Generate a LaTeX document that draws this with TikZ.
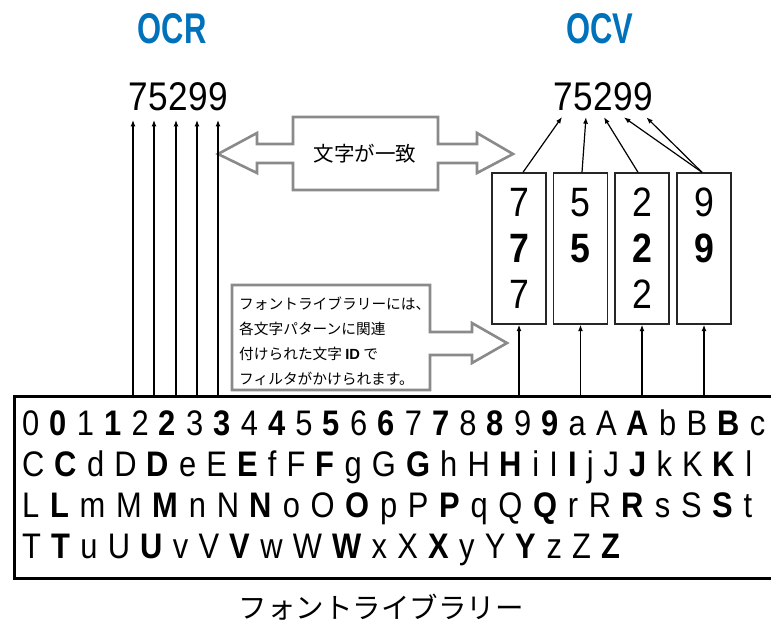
\documentclass[tikz,border=0pt]{standalone}
\usepackage{fontspec}
\setmainfont{Liberation Sans}
\newfontfamily\condfont[FakeStretch=0.87]{Liberation Sans}
\newfontfamily\numfont[FakeStretch=0.88]{Liberation Sans}
\newfontfamily\titlefont[FakeStretch=0.72]{Liberation Sans}
\newfontfamily\jpfont{Noto Sans CJK JP}
\usetikzlibrary{positioning,arrows.meta}
\definecolor{ocvblue}{RGB}{0,114,188}
\definecolor{outlinegray}{RGB}{138,138,138}
\newcommand\bd[1]{{\bfseries #1}}
\tikzset{
  title/.style={font=\titlefont\bfseries\fontsize{43}{43}\selectfont, text=ocvblue},
  digit/.style={font=\numfont\fontsize{40}{40}\selectfont, inner sep=0pt},
  up/.style={-{Latex[length=6.5pt,width=5pt]}, line width=1.2pt},
  candbox/.style={draw=black!85, line width=1.4pt, minimum width=54, minimum height=151,
    inner sep=0pt, align=center, font=\condfont\fontsize{41}{46}\selectfont},
  grayarrow/.style={draw=outlinegray, line width=2.6pt, fill=white},
  librow/.style={anchor=base west, inner sep=0pt, font=\condfont\fontsize{35.5}{35.5}\selectfont},
  jptext/.style={font=\jpfont\fontsize{#1}{#1}\selectfont},
}
\begin{document}
\begin{tikzpicture}[x=1pt, y=-1pt]
    \useasboundingbox (0,0) rectangle (771,622);

    % titles
    \node[title] (ocr) at (172,29) {OCR};
    \node[title] (ocv) at (600,29) {OCV};

    % read strings
    \node[digit] (r1) at (138,97) {7};
    \node[digit, right=0pt of r1] (r2) {5};
    \node[digit, right=0pt of r2] (r3) {2};
    \node[digit, right=0pt of r3] (r4) {9};
    \node[digit, right=0pt of r4] (r5) {9};
    \node[digit] (v1) at (563,97) {7};
    \node[digit, right=0pt of v1] (v2) {5};
    \node[digit, right=0pt of v2] (v3) {2};
    \node[digit, right=0pt of v3] (v4) {9};
    \node[digit, right=0pt of v4] (v5) {9};

    % "match" double arrow
    \draw[grayarrow] (218,154) -- (257,133) -- (257,144) -- (293,144) -- (293,117)
        -- (438,117) -- (438,144) -- (477,144) -- (477,133) -- (513,154)
        -- (477,173) -- (477,163) -- (438,163) -- (438,190) -- (293,190)
        -- (293,163) -- (257,163) -- (257,173) -- cycle;
    \node[jptext=20.5] (match) at (365,154) {文字が一致};

    % note with arrow
    \draw[grayarrow] (232,285) -- (430,285) -- (430,332) -- (472,332) -- (472,323)
        -- (507,343) -- (472,363) -- (472,355) -- (430,355) -- (430,390)
        -- (232,390) -- cycle;
    \node[anchor=north west, align=left, inner sep=0pt,
        font=\jpfont\fontsize{14.7}{24.8}\selectfont] (note) at (239,297)
        {フォントライブラリーには、\\各文字パターンに関連\\付けられた文字 {\normalfont\bfseries ID} で\\フィルタがかけられます。};

    % candidate boxes
    \node[candbox] (c1) at (519,248.5) {7\\\bd{7}\\7};
    \node[candbox] (c2) at (580.5,248.5) {5\\\bd{5}\\\phantom{5}};
    \node[candbox] (c3) at (642,248.5) {2\\\bd{2}\\2};
    \node[candbox] (c4) at (704,248.5) {9\\\bd{9}\\\phantom{9}};

    % font library
    \node[draw, line width=2.6pt, anchor=north west, minimum width=800, minimum height=182,
        inner sep=0pt] (lib) at (13,395) {};
    \node[librow] (row1) at (22,435) {\makebox[743pt][s]{0 \bd0 1 \bd1 2 \bd2 3 \bd3 4 \bd4 5 \bd5 6 \bd6 7 \bd7 8 \bd8 9 \bd9 a A \bd A b B \bd B c}};
    \node[librow] (row2) at (22,476) {\makebox[730pt][s]{C \bd C d D \bd D e E \bd E f F \bd F g G \bd G h H \bd H i I \bd I j J \bd J k K \bd K l}};
    \node[librow] (row3) at (22,517) {\makebox[730pt][s]{L \bd L m M \bd M n N \bd N o O \bd O p P \bd P q Q \bd Q r R \bd R s S \bd S t}};
    \node[librow] (row4) at (22,558) {\makebox[598pt][s]{T \bd T u U \bd U v V \bd V w W \bd W x X \bd X y Y \bd Y z Z \bd Z}};
    \node[jptext=28.5] (libname) at (381,607) {フォントライブラリー};

    % OCR arrows
    \coordinate (a1) at (133,395);
    \coordinate (a2) at (154,395);
    \coordinate (a3) at (176,395);
    \coordinate (a4) at (197,395);
    \coordinate (a5) at (218,395);
    \foreach \i in {1,...,5}
        \draw[up] (a\i) -- ([yshift=-9pt]a\i |- r1.south);

    % OCV arrows
    \foreach \i in {1,...,4}
        \draw[up] (c\i.south |- lib.north) -- (c\i.south);
    \draw[up] ([xshift=4pt]c1.north) -- ([xshift=-1pt,yshift=-6pt]v1.south);
    \draw[up] ([xshift=1.5pt]c2.north) -- ([xshift=3pt,yshift=-6pt]v2.south);
    \draw[up] ([xshift=-4pt]c3.north) -- ([xshift=1pt,yshift=-6pt]v3.south);
    \draw[up] ([xshift=-2pt]c4.north) -- ([xshift=1pt,yshift=-6pt]v4.south);
    \draw[up] ([xshift=-2pt]c4.north) -- ([xshift=3.5pt,yshift=-6pt]v5.south);
\end{tikzpicture}
\end{document}
